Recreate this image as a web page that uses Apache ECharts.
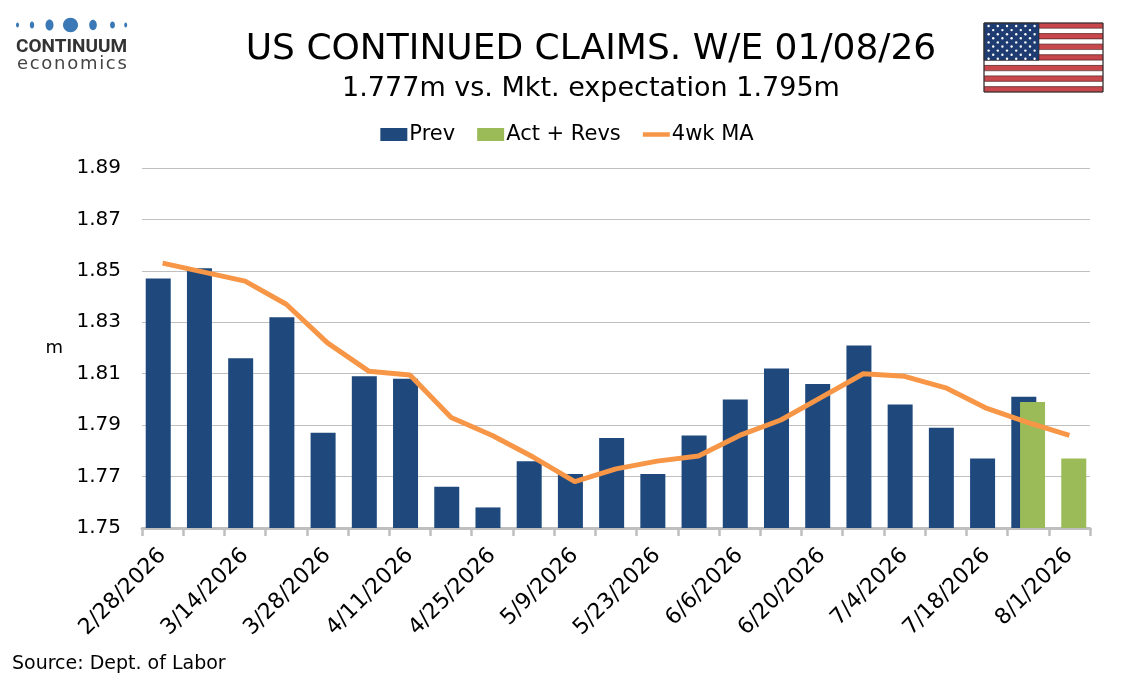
<!DOCTYPE html>
<html>
<head>
<meta charset="utf-8">
<script src="https://cdn.jsdelivr.net/npm/echarts@6/dist/echarts.min.js"></script>
<style>
  html, body { margin: 0; padding: 0; background: #fff; }
  #chart { width: 1134px; height: 680px; }
</style>
</head>
<body>
<div id="chart"></div>
<script>
// week ending dates
var weeks = ['2/28/2026','3/7/2026','3/14/2026','3/21/2026','3/28/2026','4/4/2026','4/11/2026',
  '4/18/2026','4/25/2026','5/2/2026','5/9/2026','5/16/2026','5/23/2026','5/30/2026','6/6/2026',
  '6/13/2026','6/20/2026','6/27/2026','7/4/2026','7/11/2026','7/18/2026','7/25/2026','8/1/2026'];
// values in thousands
var prev = [1847, 1851, 1816, 1832, 1787, 1809, 1808, 1766, 1758, 1776, 1771, 1785, 1771, 1786,
  1800, 1812, 1806, 1821, 1798, 1789, 1777, 1801, null];
var actRevs = [null, null, null, null, null, null, null, null, null, null, null, null, null, null,
  null, null, null, null, null, null, null, 1799, 1777];
var ma4 = [1853, 1849.5, 1846, 1837, 1822, 1811, 1809.5, 1793, 1786, 1777.5, 1768, 1773, 1776, 1778,
  1786, 1792, 1801, 1810, 1809, 1804.5, 1796.5, 1791, 1786];

var font = 'DejaVu Sans, Verdana, sans-serif';
var myChart = echarts.init(document.getElementById('chart'));

// flag stripes + stars (decoration)
var flag = [];
var fx = 984, fy = 23, fw = 119, fh = 69, sh = fh / 13;
for (var i = 0; i < 13; i++) {
  flag.push({ type: 'rect', shape: { x: fx, y: fy + i * sh, width: fw, height: sh },
    style: { fill: i % 2 === 0 ? '#c8474d' : '#ffffff', stroke: '#5a2a2a', lineWidth: 0.6 } });
}
flag.push({ type: 'rect', shape: { x: fx, y: fy, width: 55, height: sh * 7 },
  style: { fill: '#1f3c72', stroke: '#222', lineWidth: 0.6 } });
for (var r = 0; r < 9; r++) {
  var n = r % 2 === 0 ? 6 : 5;
  for (var c = 0; c < n; c++) {
    flag.push({ type: 'circle', shape: { cx: fx + 4.6 + c * 9.2 + (r % 2) * 4.6, cy: fy + 3 + r * 4.1, r: 1.2 },
      style: { fill: '#ffffff' } });
  }
}
flag.push({ type: 'rect', shape: { x: fx, y: fy, width: fw, height: fh },
  style: { fill: 'none', stroke: '#333', lineWidth: 1 } });

// logo dots + wordmark
var logo = [];
var dotX = [17.5, 32, 49.5, 70.5, 93, 112.5, 125.7];
var dotRx = [1.5, 2.2, 4, 7.5, 3.8, 2.5, 1.5];
var dotRy = [2.5, 3.5, 5.5, 7.2, 5.2, 3.5, 2.5];
for (var d = 0; d < dotX.length; d++) {
  logo.push({ type: 'ellipse', shape: { cx: dotX[d], cy: 25, rx: dotRx[d], ry: dotRy[d] },
    style: { fill: '#3a79b6' } });
}
logo.push({ type: 'text', left: 16, top: 38,
  style: { text: 'CONTINUUM', fill: '#333', font: 'bold 19px Roboto, sans-serif' } });
var word = 'economics';
var adv = { e: 0.615, c: 0.55, o: 0.612, n: 0.634, m: 0.974, i: 0.278, s: 0.521 };
var lx = 17;
for (var k = 0; k < word.length; k++) {
  logo.push({ type: 'text', x: lx, y: 55,
    style: { text: word[k], fill: '#444', font: '18px ' + font } });
  lx += adv[word[k]] * 18 + 1.7;
}

var option = {
  animation: false,
  backgroundColor: '#fff',
  title: [
    { text: 'US CONTINUED CLAIMS. W/E 01/08/26', left: 586, textAlign: 'center', top: 27,
      textStyle: { fontFamily: font, fontSize: 36, fontWeight: 'normal', color: '#000' } },
    { text: '1.777m vs. Mkt. expectation 1.795m', left: 586, textAlign: 'center', top: 70,
      textStyle: { fontFamily: font, fontSize: 27, fontWeight: 'normal', color: '#000' } },
    { text: 'Source: Dept. of Labor', left: 7, top: 650,
      textStyle: { fontFamily: font, fontSize: 19, fontWeight: 'normal', color: '#000' } }
  ],
  legend: {
    top: 119,
    left: 'center',
    itemWidth: 27,
    itemHeight: 13,
    itemGap: 22,
    textStyle: { fontFamily: font, fontSize: 21, color: '#000', padding: [0, 0, 0, -3] },
    data: [
      { name: 'Prev', icon: 'rect' },
      { name: 'Act + Revs', icon: 'rect' },
      { name: '4wk MA', icon: 'path://M0,0 L30,0 L30,5 L0,5 Z' }
    ]
  },
  grid: { left: 142, right: 44, top: 168, bottom: 152 },
  xAxis: {
    type: 'category',
    data: weeks,
    axisLine: { lineStyle: { color: '#bfbfbf', width: 3 } },
    axisTick: { show: true, interval: function () { return true; }, length: 8,
      lineStyle: { color: '#bfbfbf', width: 2.5 } },
    axisLabel: { interval: 1, rotate: 45, margin: 24, fontFamily: font, fontSize: 22, color: '#000' }
  },
  yAxis: {
    type: 'value',
    min: 1750,
    max: 1890,
    interval: 10,
    name: 'm',
    nameLocation: 'middle',
    nameRotate: 0,
    nameGap: 79,
    nameTextStyle: { fontFamily: font, fontSize: 18, color: '#000' },
    axisLine: { show: false },
    axisTick: { show: false },
    axisLabel: {
      margin: 21, fontFamily: font, fontSize: 20, color: '#000',
      formatter: function (v) { return (v - 1750) % 20 === 0 ? (v / 1000).toFixed(2) : ''; }
    },
    splitLine: { lineStyle: { color: ['#c0c0c0', 'rgba(0,0,0,0)'], width: 1 } }
  },
  series: [
    { name: 'Prev', type: 'bar', data: prev, barWidth: 25, barGap: '-65%',
      itemStyle: { color: '#1f497d' } },
    { name: 'Act + Revs', type: 'bar', data: actRevs, barWidth: 25,
      itemStyle: { color: '#9bbb59' } },
    { name: '4wk MA', type: 'line', data: ma4, showSymbol: false, symbol: 'none',
      lineStyle: { color: '#f79646', width: 5 }, itemStyle: { color: '#f79646' }, z: 5 }
  ],
  graphic: logo.concat(flag)
};
myChart.setOption(option);
window.addEventListener('resize', function () { myChart.resize(); });
</script>
</body>
</html>
